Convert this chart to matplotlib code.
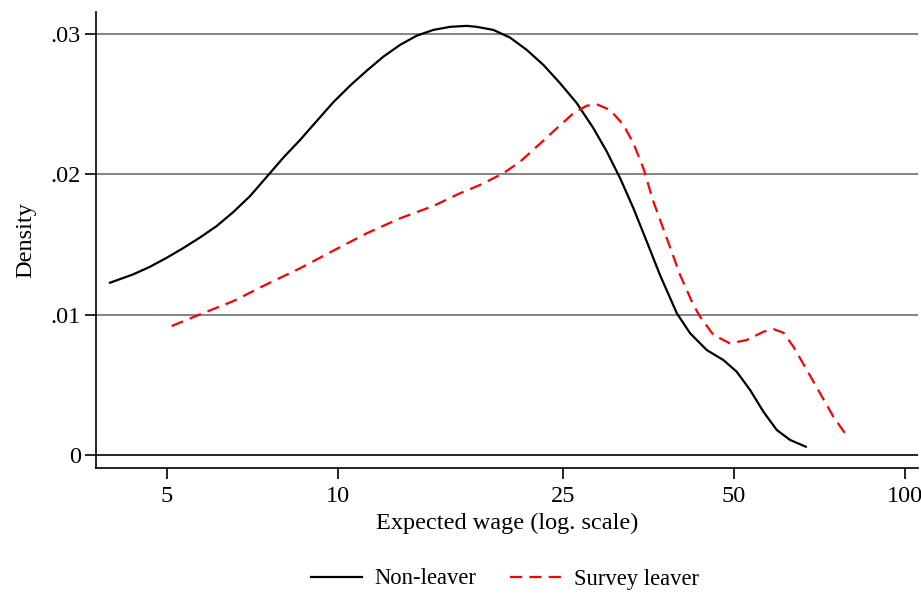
import matplotlib
matplotlib.use("Agg")
import matplotlib.pyplot as plt
from matplotlib.ticker import FixedLocator, NullLocator

plt.rcParams['font.family'] = ['Liberation Serif', 'DejaVu Serif']

# Non-leaver density
nl_wage = [3.970, 4.364, 4.670, 4.997, 5.347, 5.722, 6.123, 6.551, 7.011, 7.550,
           8.024, 8.587, 9.191, 9.831, 10.521, 11.259, 12.044, 12.889, 13.793,
           14.757, 15.791, 16.899, 17.601, 18.831, 20.152, 21.566, 23.071, 24.690,
           26.421, 28.265, 29.846, 31.503, 33.248, 35.109, 37.057, 39.657, 41.857,
           44.790, 47.910, 50.590, 53.400, 56.367, 59.524, 62.833, 66.961]
nl_dens = [0.01227, 0.01287, 0.01341, 0.01405, 0.01475, 0.01550, 0.01632, 0.01732,
           0.01846, 0.01996, 0.02120, 0.02246, 0.02382, 0.02516, 0.02634, 0.02741,
           0.02841, 0.02925, 0.02991, 0.03032, 0.03054, 0.03061, 0.03054, 0.03032,
           0.02977, 0.02889, 0.02782, 0.02651, 0.02509, 0.02330, 0.02163, 0.01973,
           0.01759, 0.01520, 0.01280, 0.01009, 0.00866, 0.00746, 0.00675, 0.00591,
           0.00461, 0.00306, 0.00175, 0.00104, 0.00056]

# Survey leaver density
sl_wage = [5.100, 5.722, 6.551, 7.501, 8.587, 9.831, 11.259, 12.889, 14.757, 16.445,
           17.838, 19.611, 20.986, 22.460, 24.361, 26.058, 27.517, 28.657, 30.248,
           31.925, 33.248, 34.627, 36.062, 38.078, 40.191, 42.421, 43.590, 46.012,
           49.230, 52.689, 56.367, 58.707, 61.147, 63.680, 67.233, 70.969, 74.904,
           78.541]
sl_dens = [0.00918, 0.01001, 0.01096, 0.01216, 0.01330, 0.01456, 0.01580, 0.01687,
           0.01775, 0.01866, 0.01925, 0.02009, 0.02091, 0.02199, 0.02330, 0.02437,
           0.02491, 0.02501, 0.02461, 0.02354, 0.02223, 0.02044, 0.01806, 0.01544,
           0.01282, 0.01068, 0.00984, 0.00854, 0.00794, 0.00818, 0.00877, 0.00896,
           0.00870, 0.00770, 0.00604, 0.00437, 0.00270, 0.00151]

x_ticks = [5, 10, 25, 50, 100]
x_ticklabels = ["5", "10", "25", "50", "100"]
y_ticks = [0, 0.01, 0.02, 0.03]
y_ticklabels = ["0", ".01", ".02", ".03"]

fig = plt.figure(figsize=(9.21, 5.94), dpi=100)
ax = fig.add_axes([96/921, 1 - 468/594, (918-96)/921, (468-12)/594])

ax.set_xscale('log')
ax.set_xlim(3.75, 105.6)
ax.set_ylim(-0.00096, 0.0316)

for yv in y_ticks:
    ax.axhline(yv, color='black' if yv == 0 else '#6e6e6e', lw=1.2, zorder=1)

l1, = ax.plot(nl_wage, nl_dens, color='black', lw=1.6, label='Non-leaver', zorder=3)
l2, = ax.plot(sl_wage, sl_dens, color='#ff0000', lw=1.6, dashes=(5.5, 3.2),
              label='Survey leaver', zorder=3)

ax.xaxis.set_major_locator(FixedLocator(x_ticks))
ax.xaxis.set_minor_locator(NullLocator())
ax.set_xticklabels(x_ticklabels)
ax.set_yticks(y_ticks)
ax.set_yticklabels(y_ticklabels)

ax.spines['top'].set_visible(False)
ax.spines['right'].set_visible(False)
ax.spines['left'].set_linewidth(1.2)
ax.spines['bottom'].set_linewidth(1.2)
ax.tick_params(axis='both', length=8, width=1.2, labelsize=17.5, color='black')
ax.tick_params(axis='x', pad=5)
ax.tick_params(axis='y', pad=3)

ax.set_xlabel('Expected wage (log. scale)', fontsize=17.5, labelpad=4)
ax.set_ylabel('Density', fontsize=17.5, labelpad=10)

fig.legend(handles=[l1, l2], loc='center', bbox_to_anchor=(505/921, 1 - 579/594),
           ncol=2, frameon=False, fontsize=16.3, handlelength=2.25, columnspacing=1.5,
           handletextpad=0.55)

fig.savefig('out.png', dpi=100, facecolor='white')
